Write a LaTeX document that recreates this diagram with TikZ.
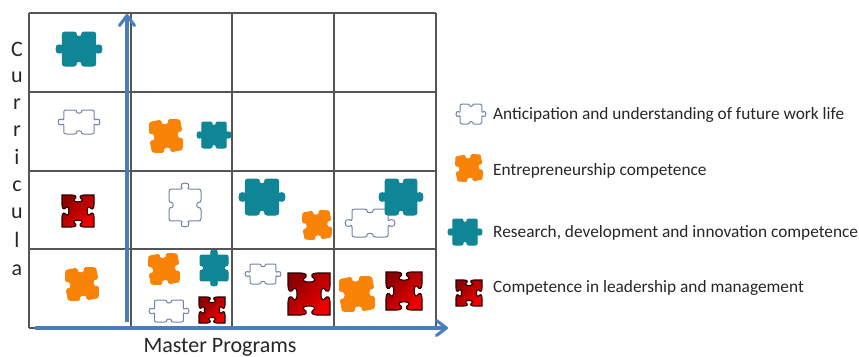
\documentclass[tikz,border=0pt]{standalone}
\usepackage{fontspec}
\setmainfont{Carlito}
\usetikzlibrary{arrows.meta,positioning}
\definecolor{axisblue}{HTML}{4A7EBB}
\definecolor{gridgrey}{HTML}{555555}
\definecolor{puzzleteal}{HTML}{0F8596}
\definecolor{puzzleorange}{HTML}{F98307}
\definecolor{puzzleline}{HTML}{7283A8}
\tikzset{
  tabpiece/.pic={
    \path[pic actions] (-.6,-1) -- (-.22,-1) .. controls (-.12,-1) and (-.12,-.92) .. (-.12,-.85)
      .. controls (-.12,-.7) and (.12,-.7) .. (.12,-.85) .. controls (.12,-.92) and (.12,-1) .. (.22,-1)
      -- (.6,-1) .. controls (.68,-1) and (.72,-.95) .. (.72,-.88) -- (.72,-.28)
      .. controls (.72,-.14) and (.76,-.18) .. (.84,-.24) .. controls (1.05,-.36) and (1.05,.36) .. (.84,.24)
      .. controls (.76,.18) and (.72,.14) .. (.72,.28) -- (.72,.88) .. controls (.72,.95) and (.68,1) .. (.6,1)
      -- (.22,1) .. controls (.12,1) and (.12,.92) .. (.12,.85)
      .. controls (.12,.7) and (-.12,.7) .. (-.12,.85) .. controls (-.12,.92) and (-.12,1) .. (-.22,1)
      -- (-.6,1) .. controls (-.68,1) and (-.72,.95) .. (-.72,.88) -- (-.72,.28)
      .. controls (-.72,.14) and (-.76,.18) .. (-.84,.24) .. controls (-1.05,.36) and (-1.05,-.36) .. (-.84,-.24)
      .. controls (-.76,-.18) and (-.72,-.14) .. (-.72,-.28) -- (-.72,-.88) .. controls (-.72,-.95) and (-.68,-1) .. (-.6,-1)
      -- cycle;
  },
  lobepiece/.pic={
    \path[pic actions] (-.8,-.95) -- (-.32,-1) .. controls (-.2,-1) and (-.22,-.85) .. (-.22,-.78)
      .. controls (-.1,-.66) and (.1,-.66) .. (.22,-.78) .. controls (.22,-.85) and (.2,-1) .. (.32,-1)
      -- (.8,-.95) .. controls (.95,-.95) and (.95,-.85) .. (.95,-.8) -- (1,-.32)
      .. controls (1,-.2) and (.85,-.22) .. (.78,-.22) .. controls (.66,-.1) and (.66,.1) .. (.78,.22)
      .. controls (.85,.22) and (1,.2) .. (1,.32) -- (.95,.8) .. controls (.95,.95) and (.85,.95) .. (.8,.95)
      -- (.32,1) .. controls (.2,1) and (.22,.85) .. (.22,.78) .. controls (.1,.66) and (-.1,.66) .. (-.22,.78)
      .. controls (-.22,.85) and (-.2,1) .. (-.32,1) -- (-.8,.95) .. controls (-.95,.95) and (-.95,.85) .. (-.95,.8)
      -- (-1,.32) .. controls (-1,.2) and (-.85,.22) .. (-.78,.22) .. controls (-.66,.1) and (-.66,-.1) .. (-.78,-.22)
      .. controls (-.85,-.22) and (-1,-.2) .. (-1,-.32) -- (-.95,-.8) .. controls (-.95,-.85) and (-.95,-.95) .. (-.8,-.95)
      -- cycle;
  },
  keypiece/.pic={
    \path[pic actions] (-1,-1) -- (-.38,-1) .. controls (-.1,-1) and (-.05,-.85) .. (-.25,-.72)
      .. controls (-.4,-.52) and (.4,-.52) .. (.25,-.72) .. controls (.05,-.85) and (.1,-1) .. (.38,-1)
      -- (1,-1) -- (1,-.38) .. controls (1,-.1) and (.85,-.05) .. (.72,-.25)
      .. controls (.52,-.4) and (.52,.4) .. (.72,.25) .. controls (.85,.05) and (1,.1) .. (1,.38)
      -- (1,1) -- (.38,1) .. controls (.1,1) and (.05,.85) .. (.25,.72)
      .. controls (.4,.52) and (-.4,.52) .. (-.25,.72) .. controls (-.05,.85) and (-.1,1) .. (-.38,1)
      -- (-1,1) -- (-1,.38) .. controls (-1,.1) and (-.85,.05) .. (-.72,.25)
      .. controls (-.52,.4) and (-.52,-.4) .. (-.72,-.25) .. controls (-.85,-.05) and (-1,-.1) .. (-1,-.38)
      -- cycle;
  },
  tealstyle/.style={fill=puzzleteal,draw=puzzleteal,line width=1pt,line join=round},
  whitestyle/.style={fill=white,draw=puzzleline,line width=1pt},
  orangestyle/.style={fill=puzzleorange,draw=puzzleorange,line width=1pt,line join=round},
  redstyle/.style={draw=black!85!red,line width=1.1pt,shading=axis,left color=red!55!black,right color=red!95!black,shading angle=45},
  axisline/.style={axisblue,line width=3.1pt,-{Straight Barb[length=10pt,width=15pt,round]}},
  legendtext/.style={anchor=west,inner sep=0pt,font=\fontsize{17.3}{20}\selectfont,text=black!85},
  axislabel/.style={inner sep=0pt,font=\fontsize{22}{24}\selectfont,text=black!85}
}
\begin{document}
\begin{tikzpicture}[x=1pt,y=-1pt]
  \useasboundingbox (0,0) rectangle (859,356);
  % matrix lines
  \foreach \x in {29,131,232,334,436} \draw[gridgrey,line width=1.1pt] (\x,13) -- (\x,328);
  \foreach \y in {13,92,171,249,328} \draw[gridgrey,line width=1.1pt] (29,\y) -- (436,\y);
  % axes
  \coordinate (ybottom) at (127,322);
  \coordinate (ytop) at (127,14);
  \coordinate (xleft) at (35,328);
  \coordinate (xright) at (448,328);
  \draw[axisline] (ybottom) -- (ytop);
  \draw[axisline] (xleft) -- (xright);
  \node[axislabel] (masterlabel) at (220,347) {Master Programs};
  \foreach \y/\t [count=\i] in {49/C,77/u,104/r,131/r,157/i,186/c,213/u,240/l,270/a}
    \node[axislabel] (curr\i) at (17,\y) {\t};
  % white pieces
  \foreach \x/\y/\w/\h in {79/122/21/12,169/311/20/11,370/223/25/14,263/274/18/10,471/114/15/10}
    \pic[whitestyle,xscale=\w,yscale=\h] at (\x,\y) {tabpiece};
  \pic[whitestyle,rotate=90,xscale=22,yscale=16] at (185,205) {tabpiece};
  % teal pieces
  \foreach \x/\y/\w/\h in {79/49/23/17,214/135/17/13,262/197/23/18,401/197/22/18,465/232/17/13}
    \pic[tealstyle,xscale=\w,yscale=\h] at (\x,\y) {tabpiece};
  \pic[tealstyle,rotate=90,xscale=18,yscale=14] at (214,268) {tabpiece};
  % orange pieces
  \foreach \x/\y/\s in {166/136/16,82/284/16,164/269/15,317/225/14,357/294/17,469/168/13}
    \pic[orangestyle,rotate=5,scale=\s] at (\x,\y) {lobepiece};
  % red pieces
  \foreach \x/\y/\w/\h in {78/211/16/16,212/310/13/13,309/294/21/21,404/291/18/19,469/293/13/13}
    \pic[redstyle,xscale=\w,yscale=\h] at (\x,\y) {keypiece};
  % legend
  \node[legendtext] (anticipation) at (493,115) {Anticipation and understanding of future work life};
  \node[legendtext] (entrepreneur) at (493,171) {Entrepreneurship competence};
  \node[legendtext] (research) at (493,233) {Research, development and innovation competence};
  \node[legendtext] (leadership) at (493,288) {Competence in leadership and management};
\end{tikzpicture}
\end{document}
